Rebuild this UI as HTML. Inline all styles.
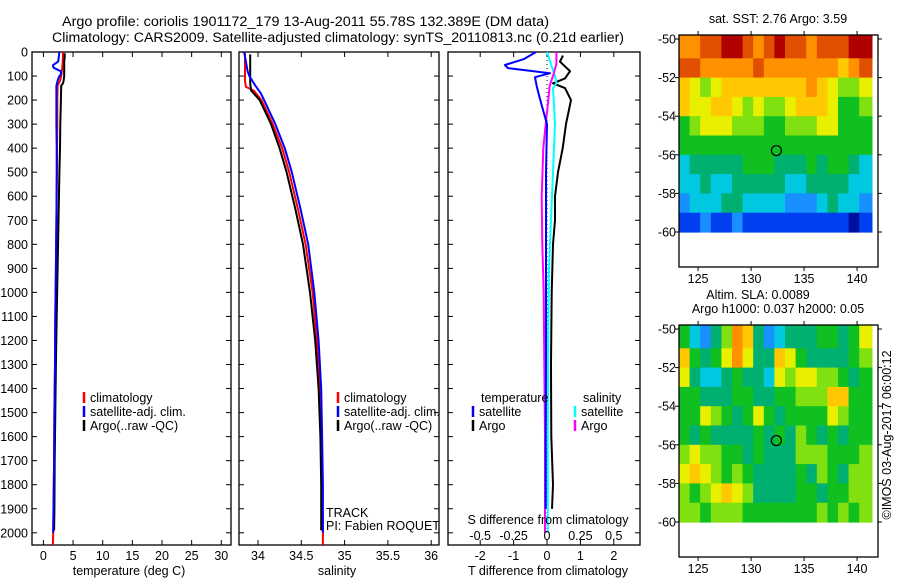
<!DOCTYPE html>
<html><head><meta charset="utf-8">
<style>
body{margin:0;background:#fff;}
svg{display:block;font-family:"Liberation Sans",sans-serif;}
text{fill:#000;}
</style></head>
<body>
<svg id="chart" width="900" height="580" viewBox="0 0 900 580" xmlns="http://www.w3.org/2000/svg">
<g id="titles">
<text x="62" y="26" font-size="13.5" textLength="487" lengthAdjust="spacingAndGlyphs">Argo profile: coriolis 1901172_179 13-Aug-2011 55.78S 132.389E (DM data)</text>
<text x="52" y="42" font-size="13.5" textLength="572" lengthAdjust="spacingAndGlyphs">Climatology: CARS2009. Satellite-adjusted climatology: synTS_20110813.nc (0.21d earlier)</text>
</g>
<g id="layer"></g>
</svg>
<script>
// ---------- data ----------
const depthTicks = [0,100,200,300,400,500,600,700,800,900,1000,1100,1200,1300,1400,1500,1600,1700,1800,1900,2000];
const tempTicks = [0,5,10,15,20,25,30];
const salTicks = [34,34.5,35,35.5,36];
const salTickLabels = ["34","34.5","35","35.5","36"];
const tdTicks = [-2,-1,0,1,2];
const sdTicks = [-0.5,-0.25,0,0.25,0.5];
const sdTickLabels = ["-0.5","-0.25","0","0.25","0.5"];

const argoTDepth = [5,20,40,60,80,100,120,130,140,200,300,400,500,700,900,1100,1300,1500,1700,1900,1990];
const argoT      = [3.6,3.6,3.5,3.5,3.5,3.5,3.4,3.3,3.0,2.95,2.85,2.8,2.7,2.55,2.4,2.25,2.1,2.0,1.9,1.85,1.8];
const climTDepth = [0,20,40,60,80,100,120,140,200,300,400,500,700,900,1100,1300,1500,1700,1900,2000,2050];
const climT      = [3.3,3.3,3.25,3.2,3.1,3.0,2.8,2.4,2.35,2.35,2.3,2.3,2.2,2.1,2.0,1.95,1.85,1.8,1.7,1.65,1.6];
const satTDepth  = [0,20,40,55,65,80,90,105,120,140,200,300,400,500,700,900,1100,1300,1500,1700,1900,2000];
const satT       = [2.7,2.6,2.5,1.6,1.7,2.9,3.0,2.6,2.4,2.2,2.2,2.2,2.25,2.25,2.2,2.1,2.0,1.95,1.85,1.8,1.7,1.65];

const argoSDepth = [10,40,80,130,160,200,300,400,500,650,800,1000,1200,1400,1600,1800,1990];
const argoS      = [33.91,33.91,33.91,33.91,33.92,34.02,34.15,34.25,34.33,34.43,34.52,34.6,34.66,34.7,34.72,34.73,34.73];
const climSDepth = [0,40,80,120,145,160,200,300,400,500,650,800,1000,1200,1400,1600,1800,2000,2050];
const climS      = [33.85,33.85,33.85,33.85,33.86,33.95,34.04,34.17,34.28,34.36,34.46,34.55,34.63,34.68,34.72,34.73,34.74,34.75,34.75];
const satSDepth  = [0,40,80,100,140,170,200,300,400,500,650,800,1000,1200,1400,1600,1800,2000];
const satS       = [33.84,33.86,33.88,33.9,33.97,34.03,34.07,34.2,34.31,34.39,34.49,34.58,34.65,34.7,34.73,34.74,34.75,34.75];

const tdSatDepth  = [0,30,54,67,88,105,140,200,300,500,700,1000,1300,1600,1900];
const tdSat       = [-0.33,-0.7,-1.26,-1.17,0.09,-0.36,-0.31,-0.2,0,-0.03,-0.03,-0.03,-0.03,-0.04,-0.04];
const tdArgoDepth = [15,40,80,110,130,150,200,300,400,500,600,700,800,1000,1300,1600,1800,1900];
const tdArgo      = [0.48,0.39,0.69,0.54,0.18,0.54,0.72,0.57,0.47,0.33,0.24,0.24,0.18,0.14,0.12,0.13,0.18,0.15];
const sdSatDepth  = [0,60,100,130,150,200,300,500,700,900,1200,1600,2000];
const sdSat       = [0,0.035,0.06,0.07,0.045,0.05,0.06,0.045,0.03,0.015,0.008,0.006,0.006];
const sdArgoDepth = [0,50,100,140,200,300,400,600,800,1000,1300,1600,2000];
const sdArgo      = [0.07,0.07,0.045,0.02,0.01,-0.01,-0.028,-0.04,-0.035,-0.025,-0.02,-0.015,-0.015];

const mapLonTicks = [125,130,135,140];
const mapLatTicks = [-50,-52,-54,-56,-58,-60];
const gridLons = [123.2,124.2,125.2,126.2,127.2,128.2,129.2,130.2,131.2,132.2,133.2,134.2,135.2,136.2,137.2,138.2,139.2,140.2,141.4];
const gridLats = [-49.8,-51,-52,-53,-54,-55,-56,-57,-58,-59,-60];
const palette = ['#0010a0','#0040f0','#1890ff','#00c8e0','#00b070','#10c020','#80e010','#e8f000','#ffc800','#ff9000','#e05000','#b00000'];
const sstGrid = [
[9,9,10,10,11,11,10,9,10,11,10,10,9,10,10,10,11,11],
[10,10,9,9,9,9,9,10,9,9,9,9,9,9,9,8,9,10],
[8,7,6,7,8,8,8,8,8,8,8,8,9,8,7,6,6,7],
[8,7,7,8,8,7,6,7,6,6,7,8,8,8,7,5,5,6],
[5,6,7,7,7,6,6,6,5,5,6,6,6,7,7,5,5,5],
[5,5,5,5,5,5,5,5,5,5,5,5,5,5,5,5,5,5],
[3,4,4,4,4,4,5,5,5,4,4,4,5,4,5,5,4,3],
[3,3,4,3,3,4,4,4,4,4,3,3,4,4,4,4,3,3],
[2,3,3,3,4,4,3,3,3,3,2,2,2,3,4,3,3,2],
[1,1,2,1,1,2,1,1,1,1,1,1,1,1,1,1,0,1]];
const slaGrid = [
[5,3,2,4,6,9,8,4,2,3,4,4,4,5,5,4,5,7],
[8,5,4,5,7,9,7,4,4,8,7,5,4,4,4,4,5,6],
[7,4,3,3,4,5,4,4,3,7,6,7,7,6,6,5,4,5],
[5,5,4,4,4,5,5,4,4,5,5,6,6,6,8,8,5,5],
[5,5,7,6,5,4,5,7,5,4,5,5,5,5,7,6,5,5],
[5,4,5,4,4,4,4,5,4,5,4,6,5,4,5,4,5,5],
[6,7,6,6,5,5,4,5,4,4,4,6,6,6,5,5,5,6],
[7,8,7,6,5,6,5,4,4,4,4,5,4,6,5,4,6,6],
[6,5,6,7,8,7,6,4,4,4,4,5,5,4,5,5,6,6],
[6,6,5,6,6,6,5,5,5,5,5,5,5,6,5,6,5,6]];
const floatLon = 132.389, floatLat = -55.78;

// ---------- helpers ----------
const NS='http://www.w3.org/2000/svg';
const layer=document.getElementById('layer');
const FS=12.5;
function mk(tag,attrs,parent){const e=document.createElementNS(NS,tag);for(const k in attrs)e.setAttribute(k,attrs[k]);(parent||layer).appendChild(e);return e;}
function txt(x,y,s,size,anchor,parent){const t=mk('text',{x:x,y:y,'font-size':size,'text-anchor':anchor||'middle'},parent);t.textContent=s;return t;}

const yD = d => 52 + d*0.2404;
const xT = v => 43.4 + v*5.93;
const xS = v => 258 + (v-34)*86.6;
const xTD = v => 547 + v*33.4;
const xSD = v => 547 + v*133.6;

function panel(name,x0,x1,xTicksVals,xf,labels,yLabels){
  const g=mk('g',{});
  
  
  const r=mk('rect',{x:x0,y:52,width:x1-x0,height:545-52,fill:'none',stroke:'#000','stroke-width':1.3},g);
  
  
  depthTicks.forEach(d=>{
    const y=yD(d);
    mk('line',{x1:x0,x2:x0+5,y1:y,y2:y,stroke:'#000'},g);
    mk('line',{x1:x1-5,x2:x1,y1:y,y2:y,stroke:'#000'},g);
    if(yLabels){const t=txt(28,y+4.5,String(d),FS,'end',g);
      
      }
  });
  xTicksVals.forEach((v,i)=>{
    const x=xf(v);
    mk('line',{x1:x,x2:x,y1:52,y2:57,stroke:'#000'},g);
    mk('line',{x1:x,x2:x,y1:540,y2:545,stroke:'#000'},g);
    const t=txt(x,560,labels[i],FS,'middle',g);
    
    
  });
  return g;
}
function series(name,xs,ds,xf,color,w,parent){
  const pts=xs.map((v,i)=>xf(v).toFixed(1)+','+yD(ds[i]).toFixed(1)).join(' ');
  const p=mk('polyline',{points:pts,fill:'none',stroke:color,'stroke-width':w,'stroke-linejoin':'round'},parent);
  
  
  return p;
}
function legend(x,y,color,label,parent){
  const l=mk('line',{x1:x,x2:x,y1:y-10,y2:y+1,stroke:color,'stroke-width':2.5},parent);
  
  
  const t=txt(x+6,y,label,FS,'start',parent);
  
  
}

// ---------- panel 1: temperature ----------
const p1=panel('temperature-panel',32,231,tempTicks,xT,tempTicks.map(String),true);
series('temperature-climatology',climT,climTDepth,xT,'#ff0000',2,p1);
series('temperature-argo',argoT,argoTDepth,xT,'#000',2,p1);
series('temperature-satellite-adj',satT,satTDepth,xT,'#0000ff',2,p1);
let t=txt(129,575,'temperature (deg C)',FS,'middle',p1);


legend(84,402,'#ff0000','climatology',p1);
legend(84,416,'#0000ff','satellite-adj. clim.',p1);
legend(84,430,'#000','Argo(..raw -QC)',p1);

// ---------- panel 2: salinity ----------
const p2=panel('salinity-panel',239,439,salTicks,xS,salTickLabels,false);
series('salinity-climatology',climS,climSDepth,xS,'#ff0000',2,p2);
series('salinity-argo',argoS,argoSDepth,xS,'#000',2,p2);
series('salinity-satellite-adj',satS,satSDepth,xS,'#0000ff',2,p2);
t=txt(337,575,'salinity',FS,'middle',p2);


legend(338,402,'#ff0000','climatology',p2);
legend(338,416,'#0000ff','satellite-adj. clim.',p2);
legend(338,430,'#000','Argo(..raw -QC)',p2);
t=txt(326,517,'TRACK',FS,'start',p2);


t=txt(326,530,'PI: Fabien ROQUET',FS,'start',p2);



// ---------- panel 3: differences ----------
const p3=panel('difference-panel',448,640,tdTicks,xTD,tdTicks.map(String),false);
const zl=mk('line',{x1:xTD(0),x2:xTD(0),y1:yD(0),y2:yD(2000),stroke:'#000','stroke-dasharray':'1,3'},p3);


series('t-diff-argo',tdArgo,tdArgoDepth,xTD,'#000',2,p3);
series('s-diff-satellite',sdSat,sdSatDepth,xSD,'#00ffff',2,p3);
series('s-diff-argo',sdArgo,sdArgoDepth,xSD,'#ff00ff',2,p3);
series('t-diff-satellite',tdSat,tdSatDepth,xTD,'#0000ff',2,p3);
sdTicks.forEach((v,i)=>{
  const tt=txt(xSD(v),540,sdTickLabels[i],FS,'middle',p3);
  
  
});
t=txt(548,524,'S difference from climatology',FS,'middle',p3);


t=txt(548,575,'T difference from climatology',FS,'middle',p3);


t=txt(481,402,'temperature',FS,'start',p3);


t=txt(583,402,'salinity',FS,'start',p3);


legend(473,416,'#0000ff','satellite',p3);
legend(473,430,'#000','Argo',p3);
legend(575,416,'#00ffff','satellite',p3);
legend(575,430,'#ff00ff','Argo',p3);

// ---------- maps ----------
function map(name,top,grid,titleLines){
  const L=679,R=878,B=top+232;
  const lonX=v=>L+(v-123.2)*10.6;
  const latY=v=>top+4+(-50-v)*19.3;
  const g=mk('g',{});
  
  
  grid.forEach((row,ri)=>{
    row.forEach((c,ci)=>{
      const x0=lonX(gridLons[ci]),x1=lonX(gridLons[ci+1]);
      const y0=ri===0?top:latY(gridLats[ri]),y1=latY(gridLats[ri+1]);
      const cell=mk('rect',{x:x0.toFixed(1),y:y0.toFixed(1),width:(x1-x0+0.6).toFixed(1),height:(y1-y0+0.6).toFixed(1),fill:palette[c]},g);
      
      
    });
  });
  const fr=mk('rect',{x:L,y:top,width:R-L,height:B-top,fill:'none',stroke:'#000','stroke-width':1.3},g);
  
  
  mapLatTicks.forEach(v=>{
    const y=latY(v);
    mk('line',{x1:L-4,x2:L,y1:y,y2:y,stroke:'#000'},g);
    mk('line',{x1:R,x2:R+4,y1:y,y2:y,stroke:'#000'},g);
    const tt=txt(L-3,y+4.5,String(v),FS,'end',g);
    
    
  });
  mapLonTicks.forEach(v=>{
    const x=lonX(v);
    mk('line',{x1:x,x2:x,y1:top-4,y2:top,stroke:'#000'},g);
    mk('line',{x1:x,x2:x,y1:B,y2:B+4,stroke:'#000'},g);
    const tt=txt(x,B+16,String(v),FS,'middle',g);
    
    
  });
  const c=mk('circle',{cx:lonX(floatLon),cy:latY(floatLat),r:5,fill:'none',stroke:'#000','stroke-width':1.2},g);
  
  
  titleLines.forEach((s,i)=>{
    const tt=txt(titleLines.length>1&&i===0?758:778,top-(titleLines.length-i)*14+2,s,FS,'middle',g);
    
    
  });
}
map('sst-map',35,sstGrid,['sat. SST: 2.76 Argo: 3.59']);
map('sla-map',325,slaGrid,['Altim. SLA: 0.0089','Argo h1000: 0.037 h2000: 0.05']);
t=txt(0,0,'©IMOS 03-Aug-2017 06:00:12',FS,'middle');
t.setAttribute('transform','translate(891,435) rotate(-90)');


</script>
</body></html>
